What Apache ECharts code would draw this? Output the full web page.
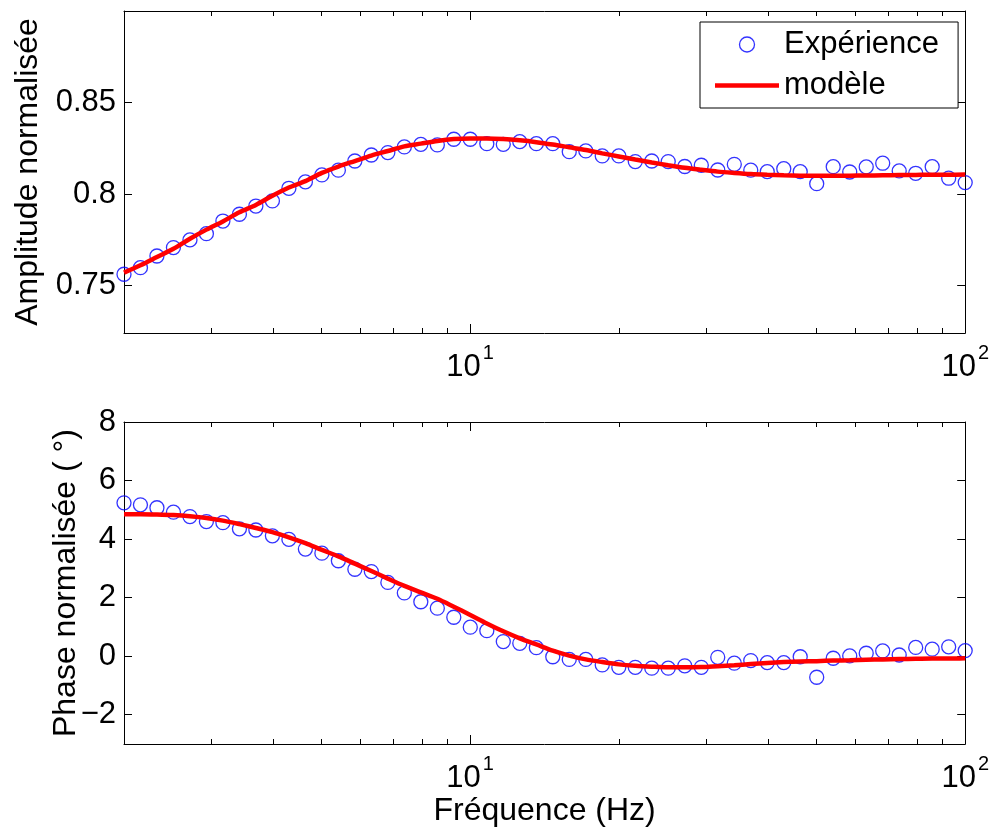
<!DOCTYPE html>
<html><head><meta charset="utf-8">
<script src="https://cdn.jsdelivr.net/npm/echarts@6/dist/echarts.min.js"></script>
<style>html,body{margin:0;padding:0;background:#fff}#c{width:992px;height:832px}</style>
</head><body><div id="c"></div>
<script>
const freq = [2.000, 2.159, 2.331, 2.517, 2.718, 2.934, 3.168, 3.421, 3.693, 3.988,
  4.306, 4.649, 5.020, 5.420, 5.852, 6.318, 6.822, 7.366, 7.953, 8.587,
  9.271, 10.01, 10.81, 11.67, 12.60, 13.61, 14.69, 15.86, 17.13, 18.49,
  19.97, 21.56, 23.28, 25.13, 27.14, 29.31, 31.64, 34.17, 36.89, 39.83,
  43.01, 46.43, 50.13, 54.13, 58.45, 63.11, 68.14, 73.57, 79.44, 85.77,
  92.61, 100.0];

const ampExp = [0.7561, 0.7597, 0.7661, 0.7707, 0.7749, 0.7783, 0.7852, 0.7889, 0.7934, 0.7962,
  0.8031, 0.8066, 0.8104, 0.8130, 0.8180, 0.8213, 0.8226, 0.8257, 0.8271, 0.8268,
  0.8299, 0.8299, 0.8275, 0.8271, 0.8286, 0.8275, 0.8275, 0.8231, 0.8235, 0.8208,
  0.8208, 0.8177, 0.8180, 0.8177, 0.8150, 0.8157, 0.8131, 0.8162, 0.8130, 0.8122,
  0.8138, 0.8122, 0.8056, 0.8149, 0.8120, 0.8148, 0.8168, 0.8126, 0.8113, 0.8149,
  0.8086, 0.8062];

const ampModel = [0.7570, 0.7610, 0.7655, 0.7700, 0.7755, 0.7805, 0.7850, 0.7900, 0.7940, 0.7990,
  0.8035, 0.8070, 0.8115, 0.8150, 0.8180, 0.8210, 0.8235, 0.8260, 0.8275, 0.8290,
  0.8300, 0.8303, 0.8303, 0.8300, 0.8293, 0.8283, 0.8270, 0.8255, 0.8240, 0.8222,
  0.8205, 0.8188, 0.8172, 0.8157, 0.8143, 0.8132, 0.8122, 0.8115, 0.8109, 0.8105,
  0.8102, 0.8100, 0.8099, 0.8099, 0.8100, 0.8101, 0.8102, 0.8103, 0.8104, 0.8105,
  0.8105, 0.8106];

const phaseExp = [5.24, 5.17, 5.07, 4.92, 4.77, 4.60, 4.56, 4.35, 4.31, 4.11,
  3.99, 3.66, 3.52, 3.26, 2.97, 2.89, 2.52, 2.16, 1.86, 1.64,
  1.33, 0.99, 0.87, 0.50, 0.44, 0.29, -0.02, -0.11, -0.11, -0.30,
  -0.38, -0.38, -0.41, -0.41, -0.33, -0.38, -0.04, -0.24, -0.15, -0.22,
  -0.22, -0.02, -0.72, -0.07, 0.01, 0.10, 0.18, 0.04, 0.30, 0.24,
  0.32, 0.19];

const phaseModel = [4.85, 4.85, 4.84, 4.82, 4.78, 4.72, 4.63, 4.51, 4.38, 4.24,
  4.06, 3.86, 3.63, 3.41, 3.16, 2.91, 2.65, 2.40, 2.18, 1.96,
  1.69, 1.41, 1.12, 0.85, 0.61, 0.40, 0.19, 0.02, -0.11, -0.20,
  -0.28, -0.33, -0.36, -0.38, -0.38, -0.37, -0.34, -0.31, -0.27, -0.23,
  -0.20, -0.18, -0.17, -0.15, -0.14, -0.12, -0.11, -0.10, -0.09, -0.08,
  -0.08, -0.07];

const xMajorTicks = [10, 100];
const xMinorTicks = [2, 3, 4, 5, 6, 7, 8, 9, 20, 30, 40, 50, 60, 70, 80, 90];
const ampTicks = [0.75, 0.8, 0.85];
const phaseTicks = [-2, 0, 2, 4, 6, 8];

const FONT = 'Liberation Sans';
const FS = 31;      // tick labels
const FSN = 32;     // axis names
const FSL = 31;     // legend

function pairs(xs, ys) { return xs.map((x, i) => [x, ys[i]]); }

function xAxisDef(grid, position, ticks, len, showLine, showLabel, name) {
  const a = {
    type: 'log', logBase: 10, min: 2, max: 100, gridIndex: grid, position: position,
    axisLine: { show: showLine, onZero: false, lineStyle: { color: '#000', width: 1 } },
    axisTick: { show: true, inside: true, length: len, customValues: ticks, lineStyle: { color: '#000', width: 1 } },
    axisLabel: { show: false },
    splitLine: { show: false }, minorTick: { show: false }, minorSplitLine: { show: false }
  };
  if (showLabel) {
    a.axisLabel = {
      show: true, customValues: xMajorTicks, margin: 10,
      fontFamily: FONT, color: '#000',
      formatter: v => '{b|10}{s|' + Math.round(Math.log10(v)) + '}',
      rich: {
        b: { fontSize: FS, fontFamily: FONT, color: '#000', lineHeight: 40, verticalAlign: 'bottom' },
        s: { fontSize: 20, fontFamily: FONT, color: '#000', lineHeight: 40, verticalAlign: 'top', padding: [0, 0, 0, 2] }
      }
    };
  }
  if (name) {
    a.name = name; a.nameLocation = 'middle'; a.nameGap = 50;
    a.nameTextStyle = { fontSize: FSN, fontFamily: FONT, color: '#000' };
  }
  return a;
}

function yAxisDef(grid, position, min, max, ticks, showLabel, fmt, name, nameGap) {
  const a = {
    type: 'value', gridIndex: grid, position: position, min: min, max: max,
    axisLine: { show: true, onZero: false, lineStyle: { color: '#000', width: 1 } },
    axisTick: { show: true, inside: true, length: 8, customValues: ticks, lineStyle: { color: '#000', width: 1 } },
    axisLabel: { show: false },
    splitLine: { show: false }
  };
  if (showLabel) {
    a.axisLabel = { show: true, customValues: ticks, margin: 8, fontSize: FS, fontFamily: FONT, color: '#000', formatter: fmt };
  }
  if (name) {
    a.name = name; a.nameLocation = 'middle'; a.nameGap = nameGap; a.nameRotate = 90;
    a.nameMoveOverlap = false;
    a.nameTextStyle = { fontSize: FSN, fontFamily: FONT, color: '#000' };
  }
  return a;
}

const ampFmt = v => String(+(+v).toFixed(2));
const phaseFmt = v => { v = Math.round(v); return v < 0 ? '\u2212' + (-v) : String(v); };

const scatterStyle = { color: 'rgba(0,0,0,0)', borderColor: '#0000ff', borderWidth: 1.3 };

const option = {
  animation: false,
  backgroundColor: '#fff',
  textStyle: { fontFamily: FONT },
  grid: [
    { left: 124, top: 11, width: 842, height: 322 },
    { left: 124, top: 422, width: 842, height: 322 }
  ],
  xAxis: [
    xAxisDef(0, 'bottom', xMajorTicks, 9, true, true, null),
    xAxisDef(0, 'bottom', xMinorTicks, 5, false, false, null),
    xAxisDef(0, 'top', xMajorTicks, 9, true, false, null),
    xAxisDef(0, 'top', xMinorTicks, 5, false, false, null),
    xAxisDef(1, 'bottom', xMajorTicks, 9, true, true, 'Fréquence (Hz)'),
    xAxisDef(1, 'bottom', xMinorTicks, 5, false, false, null),
    xAxisDef(1, 'top', xMajorTicks, 9, true, false, null),
    xAxisDef(1, 'top', xMinorTicks, 5, false, false, null)
  ],
  yAxis: [
    yAxisDef(0, 'left', 0.724, 0.9, ampTicks, true, ampFmt, 'Amplitude normalisée', 80),
    yAxisDef(0, 'right', 0.724, 0.9, ampTicks, false, null, null),
    yAxisDef(1, 'left', -3, 8, phaseTicks, true, phaseFmt, 'Phase normalisée ( °)', 42),
    yAxisDef(1, 'right', -3, 8, phaseTicks, false, null, null)
  ],
  legend: {
    orient: 'vertical', left: 700, top: 22,
    itemWidth: 64, itemHeight: 15, itemGap: 10,
    padding: [7, 19, 7, 15],
    borderColor: '#000', borderWidth: 1, backgroundColor: '#fff',
    textStyle: { fontSize: FSL, fontFamily: FONT, color: '#000' },
    data: [
      { name: 'Expérience', icon: 'circle', itemStyle: scatterStyle },
      { name: 'modèle', icon: 'path://M0,0L64,0L64,4.5L0,4.5Z' }
    ]
  },
  series: [
    { name: 'Expérience', type: 'scatter', xAxisIndex: 0, yAxisIndex: 0, symbol: 'circle', symbolSize: 14,
      itemStyle: scatterStyle, data: pairs(freq, ampExp), z: 2 },
    { name: 'modèle', type: 'line', xAxisIndex: 0, yAxisIndex: 0, symbol: 'none', smooth: 0.3,
      lineStyle: { color: '#ff0000', width: 4.5 }, itemStyle: { color: '#ff0000' }, data: pairs(freq, ampModel), z: 3 },
    { name: 'Expérience', type: 'scatter', xAxisIndex: 4, yAxisIndex: 2, symbol: 'circle', symbolSize: 14,
      itemStyle: scatterStyle, data: pairs(freq, phaseExp), z: 2 },
    { name: 'modèle', type: 'line', xAxisIndex: 4, yAxisIndex: 2, symbol: 'none', smooth: 0.3,
      lineStyle: { color: '#ff0000', width: 4.5 }, itemStyle: { color: '#ff0000' }, data: pairs(freq, phaseModel), z: 3 }
  ]
};

const chart = echarts.init(document.getElementById('c'), null, { renderer: 'canvas' });
chart.setOption(option);
</script>
</body></html>
